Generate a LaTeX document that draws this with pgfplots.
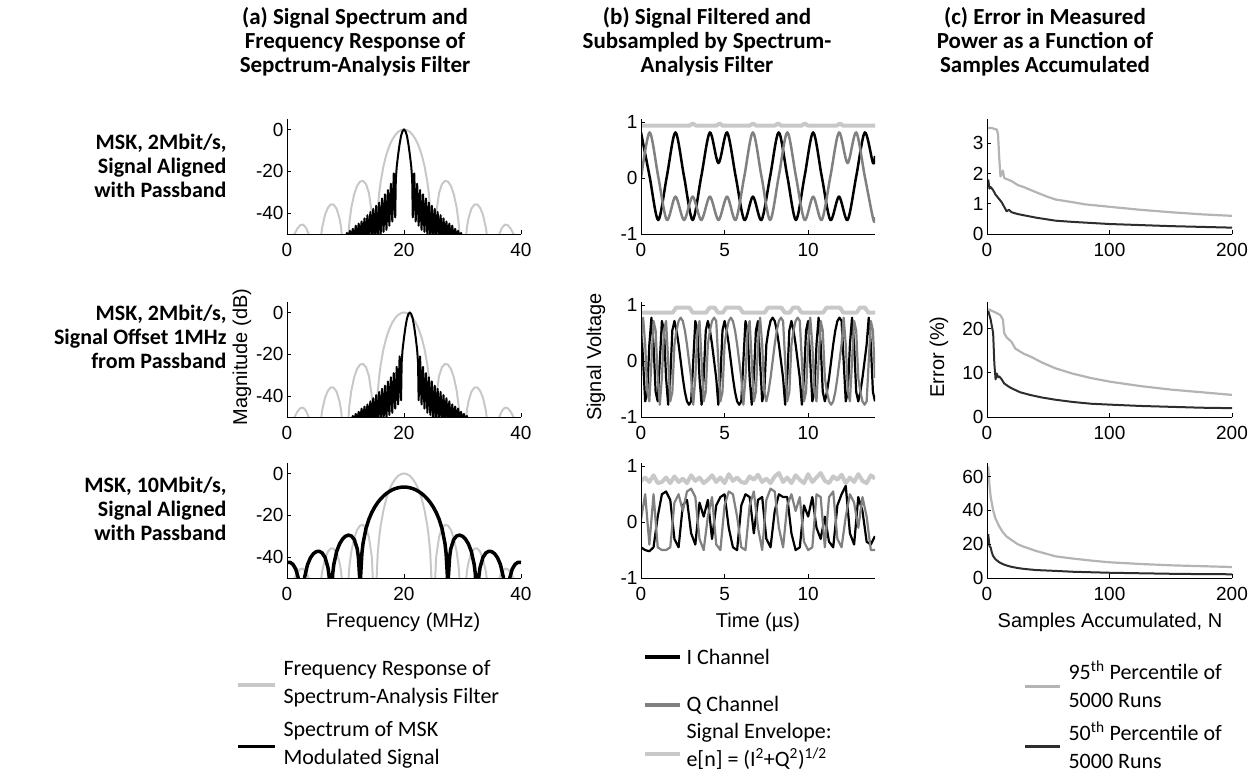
\documentclass[border=0pt]{standalone}
\usepackage{pgfplots}
\usepackage{pgfplotstable}
\pgfplotsset{compat=1.18}
\usepackage{fontspec}
\setmainfont{Liberation Sans}
\newfontfamily\calib{Carlito}
\definecolor{lgray}{RGB}{200,200,200}
\definecolor{mgray}{RGB}{128,128,128}
\definecolor{pgray}{RGB}{180,180,180}
\definecolor{dgray}{RGB}{45,45,45}

\pgfplotsset{
  myax/.style={scale only axis, width=234pt, height=115pt,
    axis lines=left, axis line style={-, line width=0.8pt},
    axis on top=true,
    tick align=inside, major tick length=4pt, tick style={black, line width=0.6pt},
    ticklabel style={font=\fontsize{19}{19}\selectfont},
    xticklabel style={yshift=-6pt},
    /pgf/number format/assume math mode=true,
    every axis plot/.append style={line join=round}},
  cola/.style={myax, xmin=0, xmax=40, ymin=-50, ymax=5, xtick={0,20,40}, ytick={-40,-20,0}},
  colb/.style={myax, xmin=0, xmax=14, ymin=-1, ymax=1.06, xtick={0,5,10}, ytick={-1,0,1}},
  colc/.style={myax, width=245pt, xmin=0, xmax=200, ymin=0, xtick={0,100,200}},
}

% filter response (same in all rows)
\pgfplotstableread{
x y
0 -70
1.3 -50
1.75 -47.5
2.25 -45.8
2.75 -45.5
3.25 -47
3.7 -50
5 -70
6 -47
6.5 -40.82
7 -37.36
7.5 -35.81
8 -35.97
8.5 -38.04
9 -42.8
9.25 -46.9
10 -70
10.65 -44.8
11 -37.3
11.5 -30.8
12 -26.9
12.5 -24.9
13 -24.6
13.5 -26.1
14 -30.3
14.5 -40
15 -70
15.5 -38.46
15.75 -30.78
16 -25.24
16.5 -17.37
17 -11.88
17.5 -7.85
18 -4.84
18.5 -2.65
19 -1.16
19.5 -0.29
20 0
20.5 -0.29
21 -1.16
21.5 -2.65
22 -4.84
22.5 -7.85
23 -11.88
23.5 -17.37
24 -25.24
24.25 -30.78
24.5 -38.46
25 -70
25.5 -40
26 -30.3
26.5 -26.1
27 -24.6
27.5 -24.9
28 -26.9
28.5 -30.8
29 -37.3
29.35 -44.8
30 -70
30.75 -46.9
31 -42.8
31.5 -38.04
32 -35.97
32.5 -35.81
33 -37.36
33.5 -40.82
34 -47
35 -70
36.3 -50
36.75 -47
37.25 -45.5
37.75 -45.8
38.25 -47.5
38.7 -50
40 -70
}\filt

\pgfplotstableread{
t I Q
0.000 0.72 0.30
0.125 0 0.78
0.250 -0.72 0.30
0.375 -0.55 -0.55
0.500 0.30 -0.72
0.625 0.78 0
0.750 0.30 0.72
0.875 -0.55 0.55
1.000 -0.72 -0.30
1.125 0 -0.78
1.250 0.72 -0.30
1.375 0.55 0.55
1.500 -0.30 0.72
1.625 -0.78 0
1.750 -0.30 -0.72
1.875 0.55 -0.55
2.000 0.72 0.30
2.125 0.55 0.55
2.250 0.30 0.72
2.375 0 0.78
2.500 -0.30 0.72
2.625 -0.55 0.55
2.750 -0.72 0.30
2.875 -0.78 0
3.000 -0.72 -0.30
3.125 0 -0.78
3.250 0.72 -0.30
3.375 0.55 0.55
3.500 -0.30 0.72
3.625 -0.78 0
3.750 -0.30 -0.72
3.875 0.55 -0.55
4.000 0.72 0.30
4.125 0.55 0.55
4.250 0.30 0.72
4.375 0 0.78
4.500 -0.30 0.72
4.625 -0.78 0
4.750 -0.30 -0.72
4.875 0.55 -0.55
5.000 0.72 0.30
5.125 0.55 0.55
5.250 0.30 0.72
5.375 0 0.78
5.500 -0.30 0.72
5.625 -0.55 0.55
5.750 -0.72 0.30
5.875 -0.78 0
6.000 -0.72 -0.30
6.125 0 -0.78
6.250 0.72 -0.30
6.375 0.55 0.55
6.500 -0.30 0.72
6.625 -0.78 0
6.750 -0.30 -0.72
6.875 0.55 -0.55
7.000 0.72 0.30
7.125 0 0.78
7.250 -0.72 0.30
7.375 -0.55 -0.55
7.500 0.30 -0.72
7.625 0.55 -0.55
7.750 0.72 -0.30
7.875 0.78 0
8.000 0.72 0.30
8.125 0.55 0.55
8.250 0.30 0.72
8.375 0 0.78
8.500 -0.30 0.72
8.625 -0.78 0
8.750 -0.30 -0.72
8.875 0.55 -0.55
9.000 0.72 0.30
9.125 0.55 0.55
9.250 0.30 0.72
9.375 0 0.78
9.500 -0.30 0.72
9.625 -0.78 0
9.750 -0.30 -0.72
9.875 0.55 -0.55
10.000 0.72 0.30
10.125 0 0.78
10.250 -0.72 0.30
10.375 -0.55 -0.55
10.500 0.30 -0.72
10.625 0.78 0
10.750 0.30 0.72
10.875 -0.55 0.55
11.000 -0.72 -0.30
11.125 -0.55 -0.55
11.250 -0.30 -0.72
11.375 0 -0.78
11.500 0.30 -0.72
11.625 0.55 -0.55
11.750 0.72 -0.30
11.875 0.78 0
12.000 0.72 0.30
12.125 0 0.78
12.250 -0.72 0.30
12.375 -0.55 -0.55
12.500 0.30 -0.72
12.625 0.78 0
12.750 0.30 0.72
12.875 -0.55 0.55
13.000 -0.72 -0.30
13.125 -0.55 -0.55
13.250 -0.30 -0.72
13.375 0 -0.78
13.500 0.30 -0.72
13.625 0.78 0
13.750 0.30 0.72
13.875 -0.55 0.55
14.000 -0.72 -0.30
}\rowtwo

\pgfplotstableread{
t I Q E
0 -0.45 0.05 0.74
0.25 -0.5 0.5 0.8
0.5 -0.52 -0.4 0.72
0.75 -0.45 0.5 0.84
1.0 0.1 -0.45 0.7
1.25 0.5 -0.5 0.72
1.5 0.55 -0.5 0.8
1.75 0.4 -0.45 0.7
2.0 -0.3 0.35 0.82
2.25 -0.45 0.5 0.72
2.5 0.3 0.2 0.78
2.75 0.4 0.55 0.7
3.0 -0.2 0.6 0.84
3.25 -0.4 0.45 0.74
3.5 0.35 -0.3 0.8
3.75 0.1 -0.5 0.7
4.0 0.4 0.1 0.76
4.25 -0.3 0.45 0.84
4.5 0.3 -0.4 0.72
4.75 0.45 -0.5 0.8
5.0 0.5 0.3 0.7
5.25 -0.1 0.55 0.86
5.5 -0.45 0.5 0.74
5.75 -0.5 0.1 0.8
6.0 0.3 -0.45 0.72
6.25 0.5 -0.5 0.7
6.5 0.45 0.3 0.82
6.75 -0.2 0.55 0.76
7.0 0.4 -0.1 0.85
7.25 0.45 -0.5 0.72
7.5 -0.3 0.4 0.78
7.75 -0.45 0.6 0.7
8.0 0.2 0.55 0.82
8.25 0.5 -0.1 0.88
8.5 0.45 -0.45 0.72
8.75 0.45 0.3 0.8
9.0 -0.2 0.5 0.7
9.25 -0.5 0.2 0.84
9.5 -0.45 0.45 0.76
9.75 0.3 -0.35 0.7
10.0 0.1 -0.5 0.86
10.25 0.45 -0.45 0.72
10.5 -0.1 0.5 0.8
10.75 -0.3 0.45 0.88
11.0 0.1 -0.45 0.74
11.25 -0.35 0.45 0.7
11.5 -0.45 0.55 0.82
11.75 0.3 -0.3 0.76
12.0 0.5 -0.45 0.85
12.25 0.65 0.1 0.7
12.5 -0.2 0.5 0.8
12.75 -0.4 0.35 0.72
13.0 0.45 -0.1 0.86
13.25 0.2 0.45 0.74
13.5 -0.35 0.1 0.7
13.75 -0.4 -0.5 0.84
14.0 -0.25 -0.5 0.78
}\rowthree

\begin{document}
\begin{tikzpicture}[x=1pt,y=1pt]
\path[use as bounding box] (0,0) rectangle (1248,-781);

% ---------- column titles ----------
\begin{scope}[every node/.style={align=center, font={\calib\bfseries\fontsize{23}{24}\selectfont}}]
\node at (355,-42) {(a) Signal Spectrum and\\Frequency Response of\\Sepctrum-Analysis Filter};
\node at (707,-42) {(b) Signal Filtered and\\Subsampled by Spectrum-\\Analysis Filter};
\node at (1045,-42) {(c) Error in Measured\\Power as a Function of\\Samples Accumulated};
\end{scope}
% ---------- row labels ----------
\begin{scope}[every node/.style={anchor=east, align=right, font={\calib\bfseries\fontsize{22}{24}\selectfont}}]
\node at (230,-166) {MSK, 2Mbit/s,\\Signal Aligned\\with Passband};
\node at (230,-337) {MSK, 2Mbit/s,\\Signal Offset 1MHz\\from Passband};
\node at (230,-509) {MSK, 10Mbit/s,\\Signal Aligned\\with Passband};
\end{scope}

% ================= column (a) =================
\begin{axis}[cola, at={(287pt,-234pt)}, anchor=south west]
\addplot[lgray, line width=2pt] table[x=x,y=y] {\filt};
\addplot[black, line width=2pt] coordinates {
(10,-52) (10.25,-49.5) (10.5,-52) (10.75,-48.5) (11,-52) (11.25,-47.5) (11.5,-52) (11.75,-46) (12,-52) (12.25,-45) (12.5,-52) (12.75,-44) (13,-52) (13.25,-42.5) (13.5,-52) (13.75,-41) (14,-52) (14.25,-39.5) (14.5,-52) (14.75,-38) (15,-52) (15.25,-36.5) (15.5,-52) (15.75,-35) (16,-51) (16.25,-33) (16.5,-49) (16.75,-31) (17,-48) (17.25,-29) (17.5,-46) (17.75,-26) (18,-44) (18.25,-21) (18.5,-42) (18.6,-24) (18.75,-18) (19,-12) (19.25,-7) (19.5,-3) (19.75,-0.8) (20,0)
(20.25,-0.8) (20.5,-3) (20.75,-7) (21,-12) (21.25,-18) (21.4,-24) (21.5,-42) (21.75,-21) (22,-44) (22.25,-26) (22.5,-46) (22.75,-29) (23,-48) (23.25,-31) (23.5,-49) (23.75,-33) (24,-51) (24.25,-35) (24.5,-52) (24.75,-36.5) (25,-52) (25.25,-38) (25.5,-52) (25.75,-39.5) (26,-52) (26.25,-41) (26.5,-52) (26.75,-42.5) (27,-52) (27.25,-44) (27.5,-52) (27.75,-45) (28,-52) (28.25,-46) (28.5,-52) (28.75,-47.5) (29,-52) (29.25,-48.5) (29.5,-52) (29.75,-49.5) (30,-52)};
\end{axis}

\begin{axis}[cola, at={(287pt,-417pt)}, anchor=south west]
\addplot[lgray, line width=2pt] table[x=x,y=y] {\filt};
\addplot[black, line width=2pt] coordinates {
(11,-52) (11.25,-49.5) (11.5,-52) (11.75,-48.5) (12,-52) (12.25,-47.5) (12.5,-52) (12.75,-46) (13,-52) (13.25,-45) (13.5,-52) (13.75,-44) (14,-52) (14.25,-42.5) (14.5,-52) (14.75,-41) (15,-52) (15.25,-39.5) (15.5,-52) (15.75,-38) (16,-52) (16.25,-36.5) (16.5,-52) (16.75,-35) (17,-51) (17.25,-33) (17.5,-49) (17.75,-31) (18,-48) (18.25,-29) (18.5,-46) (18.75,-26) (19,-44) (19.25,-21) (19.5,-42) (19.6,-24) (19.75,-18) (20,-12) (20.25,-7) (20.5,-3) (20.75,-0.8) (21,0)
(21.25,-0.8) (21.5,-3) (21.75,-7) (22,-12) (22.25,-18) (22.4,-24) (22.5,-42) (22.75,-21) (23,-44) (23.25,-26) (23.5,-46) (23.75,-29) (24,-48) (24.25,-31) (24.5,-49) (24.75,-33) (25,-51) (25.25,-35) (25.5,-52) (25.75,-36.5) (26,-52) (26.25,-38) (26.5,-52) (26.75,-39.5) (27,-52) (27.25,-41) (27.5,-52) (27.75,-42.5) (28,-52) (28.25,-44) (28.5,-52) (28.75,-45) (29,-52) (29.25,-46) (29.5,-52) (29.75,-47.5) (30,-52) (30.25,-48.5) (30.5,-52) (30.75,-49.5) (31,-52)};
\end{axis}

\begin{axis}[cola, at={(287pt,-578pt)}, anchor=south west]
\addplot[lgray, line width=2pt] table[x=x,y=y] {\filt};
\addplot[black, line width=3.5pt] coordinates {
(0,-42.49) (0.5,-42.48) (1,-43.42) (1.5,-45.73) (2,-50.8) (2.5,-70) (3,-49.81) (3.5,-43.70) (4,-40.37) (4.5,-38.40) (5,-37.38) (5.5,-37.21) (6,-37.99) (6.5,-40.1) (7,-45.0) (7.2,-49.1) (7.5,-70) (7.8,-48.2) (8,-43.57) (8.5,-37.21) (9,-33.62) (9.5,-31.36) (10,-30.02) (10.5,-29.50) (11,-29.90) (11.5,-31.59) (12,-36.0) (12.2,-39.9) (12.4,-48.9) (12.5,-70) (12.6,-48.3) (12.8,-38.3) (13,-33.40) (13.5,-26.32) (14,-21.89) (14.5,-18.62) (15,-16.04) (15.5,-13.94) (16,-12.20) (16.5,-10.76) (17,-9.57) (17.5,-8.60) (18,-7.83) (18.5,-7.24) (19,-6.83) (19.5,-6.58) (20,-6.5)
(20.5,-6.58) (21,-6.83) (21.5,-7.24) (22,-7.83) (22.5,-8.60) (23,-9.57) (23.5,-10.76) (24,-12.20) (24.5,-13.94) (25,-16.04) (25.5,-18.62) (26,-21.89) (26.5,-26.32) (27,-33.40) (27.2,-38.3) (27.4,-48.3) (27.5,-70) (27.6,-48.9) (27.8,-39.9) (28,-36.0) (28.5,-31.59) (29,-29.90) (29.5,-29.50) (30,-30.02) (30.5,-31.36) (31,-33.62) (31.5,-37.21) (32,-43.57) (32.2,-48.2) (32.5,-70) (32.8,-49.1) (33,-45.0) (33.5,-40.1) (34,-37.99) (34.5,-37.21) (35,-37.38) (35.5,-38.40) (36,-40.37) (36.5,-43.70) (37,-49.81) (37.5,-70) (38,-50.8) (38.5,-45.73) (39,-43.42) (39.5,-42.48) (40,-42.49)};
\end{axis}

% ================= column (b) =================
\begin{axis}[colb, at={(641pt,-234pt)}, anchor=south west]
\addplot[black, line width=2.5pt, smooth] coordinates {
(0,0.82) (0.515,0.03) (1.03,-0.75) (1.545,0.03) (2.06,0.82) (2.575,0.03) (3.09,-0.75) (3.605,0.03) (4.12,0.82) (4.635,0.27) (5.15,0.82) (5.665,0.03) (6.18,-0.75) (6.695,-0.33) (7.21,-0.75) (7.725,0.03) (8.24,0.82) (8.755,0.03) (9.27,-0.75) (9.785,0.03) (10.3,0.82) (10.815,0.03) (11.33,-0.75) (11.845,-0.33) (12.36,-0.75) (12.875,0.03) (13.39,0.82) (13.88,0.27) (14,0.4)};
\addplot[mgray, line width=2.5pt, smooth] coordinates {
(0,0.0) (0.515,0.82) (1.03,0.03) (1.545,-0.75) (2.06,-0.33) (2.575,-0.75) (3.09,-0.33) (3.605,-0.75) (4.12,-0.33) (4.635,-0.75) (5.15,-0.33) (5.665,-0.75) (6.18,0.03) (6.695,0.82) (7.21,0.03) (7.725,-0.75) (8.24,0.03) (8.755,0.82) (9.27,0.03) (9.785,-0.75) (10.3,-0.33) (10.815,-0.75) (11.33,0.03) (11.845,0.82) (12.36,0.27) (12.875,0.82) (13.39,0.03) (13.905,-0.75) (14,-0.7)};
\addplot[lgray, line width=4pt] coordinates {
(0,0.94) (2.9,0.94) (3.1,0.98) (3.3,0.94) (4.5,0.94) (4.7,0.98) (4.9,0.94) (6.5,0.94) (6.7,0.98) (6.9,0.94) (8.0,0.94) (8.2,0.98) (8.4,0.94) (9.6,0.94) (9.8,0.98) (10.0,0.94) (11.7,0.94) (11.9,0.98) (12.1,0.94) (14,0.94)};
\end{axis}

\begin{axis}[colb, at={(641pt,-417pt)}, anchor=south west]
\addplot[black, line width=2.2pt] table[x=t,y=I] {\rowtwo};
\addplot[mgray, line width=2.2pt] table[x=t,y=Q] {\rowtwo};
\addplot[lgray, line width=4pt] coordinates {
(0,0.87) (1.9,0.87) (2.1,0.96) (2.9,0.96) (3.1,0.87) (3.9,0.87) (4.1,0.96) (4.4,0.96) (4.6,0.87) (4.9,0.87) (5.1,0.96) (5.9,0.96) (6.1,0.87) (7.4,0.87) (7.6,0.96) (8.4,0.96) (8.6,0.87) (8.9,0.87) (9.1,0.96) (9.4,0.96) (9.6,0.87) (10.9,0.87) (11.1,0.96) (11.9,0.96) (12.1,0.87) (12.9,0.87) (13.1,0.96) (13.4,0.96) (13.6,0.87) (14,0.87)};
\end{axis}

\begin{axis}[colb, at={(641pt,-578pt)}, anchor=south west]
\addplot[black, line width=2.2pt] table[x=t,y=I] {\rowthree};
\addplot[mgray, line width=2.2pt] table[x=t,y=Q] {\rowthree};
\addplot[lgray, line width=4pt] table[x=t,y=E] {\rowthree};
\end{axis}

% ================= column (c) =================
\begin{axis}[colc, at={(987pt,-234pt)}, anchor=south west, ymax=3.8, ytick={0,1,2,3}]
\addplot[pgray, line width=2.2pt] coordinates {
(1,3.5) (4,3.5) (8,3.45) (9,3.3) (10,2.5) (11,1.9) (13,2.1) (14,1.85) (17,1.8) (20,1.75) (25,1.62) (30,1.55) (40,1.38) (50,1.22) (56,1.14) (70,1.05) (80,0.98) (100,0.9) (125,0.8) (150,0.72) (175,0.65) (200,0.6)};
\addplot[dgray, line width=2pt] coordinates {
(1,1.8) (2,1.5) (3,1.55) (5,1.45) (7,1.3) (10,1.15) (12,1.05) (14,0.9) (16,0.75) (18,0.8) (20,0.72) (25,0.66) (30,0.62) (40,0.54) (56,0.44) (70,0.4) (100,0.33) (150,0.26) (200,0.21)};
\end{axis}

\begin{axis}[colc, at={(987pt,-417pt)}, anchor=south west, ymax=26, ytick={0,10,20}]
\addplot[pgray, line width=2.2pt] coordinates {
(1,24.4) (4,24) (8,23.5) (11,23) (13,22) (14,19) (16,18) (18,17.5) (20,17) (23,15.5) (27,14.8) (30,14.3) (36,13.6) (45,12.3) (56,11) (70,9.8) (85,8.8) (100,8) (125,7) (150,6.2) (175,5.6) (200,5.0)};
\addplot[dgray, line width=2pt] coordinates {
(1,24) (2,23) (3,22) (5,19) (6,12) (7,8.5) (8,9.8) (9,9) (10,9.2) (12,8.5) (14,7.6) (17,7) (20,6.5) (27,5.6) (35,5) (45,4.4) (56,3.9) (70,3.4) (85,3.0) (100,2.8) (125,2.5) (150,2.3) (175,2.1) (200,2.0)};
\end{axis}

\begin{axis}[colc, at={(987pt,-578pt)}, anchor=south west, ymax=68, ytick={0,20,40,60}]
\addplot[pgray, line width=2.2pt] coordinates {
(1,66) (2,55) (3,48) (4,44) (5,40) (7,35) (10,30.5) (13,27) (16,24.5) (20,22.5) (25,20) (30,18.5) (40,16) (50,14) (56,12.8) (70,11.5) (85,10.3) (100,9.3) (125,8.3) (150,7.5) (175,7) (200,6.5)};
\addplot[dgray, line width=2pt] coordinates {
(1,26) (2,19) (3,18) (4,15) (5,13) (7,11) (10,9.3) (13,8.2) (16,7.4) (20,6.6) (25,5.9) (30,5.4) (40,4.7) (56,4.2) (70,3.7) (85,3.4) (100,3.1) (125,2.8) (150,2.5) (175,2.3) (200,2.2)};
\end{axis}

% ---------- axis labels ----------
\begin{scope}[every node/.style={font=\fontsize{20}{20}\selectfont}]
\node[rotate=90] at (242,-357) {Magnitude (dB)};
\node[rotate=90] at (596,-357) {Signal Voltage};
\node[rotate=90] at (939,-357) {Error (\%)};
\node[anchor=base] at (403,-627) {Frequency (MHz)};
\node[anchor=base] at (758,-627) {Time (µs)};
\node[anchor=base] at (1110,-627) {Samples Accumulated, N};
\end{scope}

% ---------- legends ----------
\begin{scope}[every node/.style={anchor=west, align=left, font={\calib\fontsize{22}{28}\selectfont}}]
\draw[lgray, line width=4pt] (238,-685) -- (275,-685);
\node at (280,-684) {Frequency Response of\\Spectrum-Analysis Filter};
\draw[black, line width=3pt] (238,-746) -- (275,-746);
\node at (280,-745) {Spectrum of MSK\\Modulated Signal};
\draw[black, line width=3.5pt] (645,-657) -- (680,-657);
\node at (683,-657) {I Channel};
\draw[mgray, line width=3.5pt] (645,-705) -- (680,-705);
\node at (683,-705) {Q Channel};
\draw[lgray, line width=4pt] (645,-754) -- (680,-754);
\node at (683,-746) {Signal Envelope:\\e[n] = (I\textsuperscript{2}+Q\textsuperscript{2})\textsuperscript{1/2}};
\draw[pgray, line width=3pt] (1025,-686) -- (1060,-686);
\node at (1065,-684) {95\textsuperscript{th} Percentile of\\5000 Runs};
\draw[dgray, line width=3pt] (1025,-746) -- (1060,-746);
\node at (1065,-745) {50\textsuperscript{th} Percentile of\\5000 Runs};
\end{scope}
\end{tikzpicture}
\end{document}
